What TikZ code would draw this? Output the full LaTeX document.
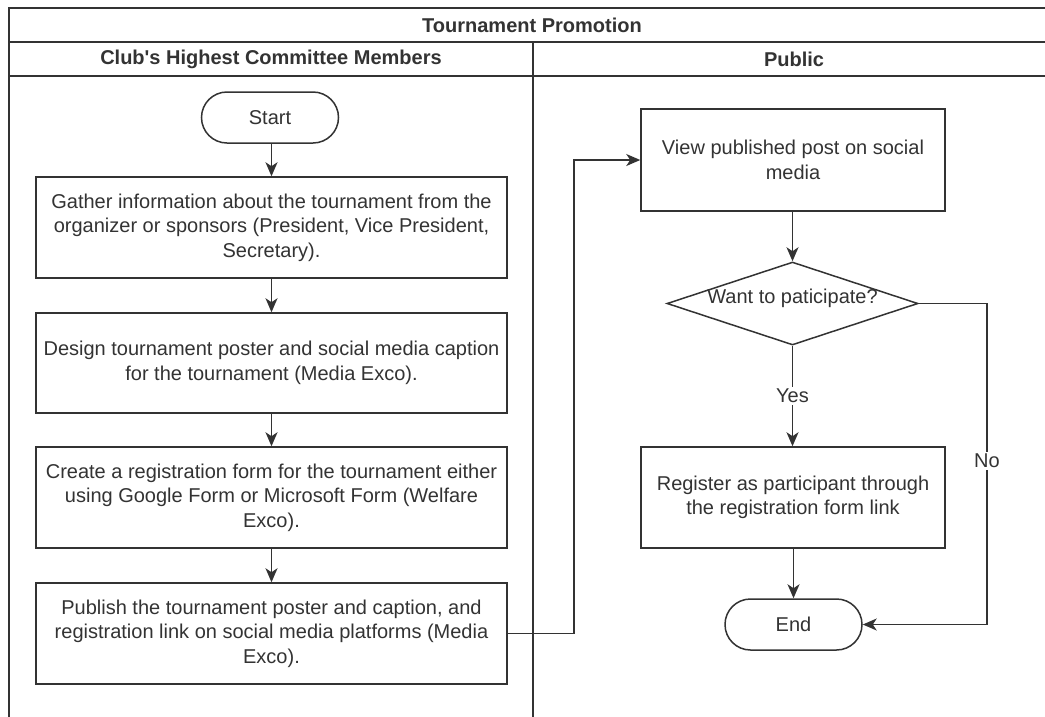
\documentclass[tikz,border=0pt]{standalone}
\usepackage{fontspec}
\setmainfont{Liberation Sans}[Ligatures=TeXOff]
\usetikzlibrary{arrows.meta,shapes.geometric}
\definecolor{ink}{HTML}{333333}
\tikzset{
  >={Stealth[length=14pt,width=12pt,inset=4pt]},
  every node/.style={text=ink, font=\fontsize{20}{24.5}\selectfont},
  proc/.style={draw=ink, line width=1.5pt, rectangle, align=center, inner sep=0pt, fill=white},
  term/.style={draw=ink, line width=1.5pt, rectangle, rounded corners=25.5pt, minimum width=137pt, minimum height=51pt, inner sep=0pt, fill=white},
  decision/.style={draw=ink, line width=1.5pt, diamond, minimum width=251pt, minimum height=83pt, inner sep=0pt, fill=white},
  flow/.style={draw=ink, line width=1.5pt, ->},
  lane/.style={draw=ink, line width=1.5pt},
  hdr/.style={font=\fontsize{20}{24}\selectfont\bfseries},
  lbl/.style={fill=white, inner sep=2pt}
}
\begin{document}
\begin{tikzpicture}[x=1pt, y=-1pt]
\useasboundingbox (0,0) rectangle (1045,716);
\fill[white] (0,0) rectangle (1045,716);
\begin{scope}
  \clip (0,0) rectangle (1045,716);
  \draw[lane] (9,8) rectangle (1055,740);
  \draw[lane] (9,42) -- (1055,42);
  \draw[lane] (9,76) -- (1055,76);
  \draw[lane] (533,42) -- (533,740);
\end{scope}
\node[hdr] (title) at (532,25) {Tournament Promotion};
\node[hdr] (laneA) at (271,59) {Club's Highest Committee Members};
\node[hdr] (laneB) at (794,59) {Public};

\node[term] (start) at (270,117.5) {Start};
\node[proc, minimum width=471pt, minimum height=101pt] (g) at (271.5,227.5) {Gather information about the tournament from the\\organizer or sponsors (President, Vice President,\\Secretary).};
\node[proc, minimum width=471pt, minimum height=100pt] (d) at (271.5,363) {Design tournament poster and social media caption\\for the tournament (Media Exco).};
\node[proc, minimum width=471pt, minimum height=101pt] (c) at (271.5,497.5) {Create a registration form for the tournament either\\using Google Form or Microsoft Form (Welfare\\Exco).};
\node[proc, minimum width=471pt, minimum height=101pt] (p) at (271.5,633.5) {Publish the tournament poster and caption, and\\registration link on social media platforms (Media\\Exco).};

\node[proc, minimum width=304pt, minimum height=102pt] (v) at (793,160) {View published post on social\\media};
\node[decision] (q) at (792.5,303.5) {\smash{\makebox[0pt]{Want to paticipate?}}};
\node[proc, minimum width=304pt, minimum height=101pt] (r) at (793,497.5) {Register as participant through\\the registration form link};
\node[term] (e) at (793.5,624.5) {End};
\coordinate (n1) at (987,303.5);
\coordinate (n2) at (987,624.5);
\coordinate (b1) at (574,633.5);
\coordinate (b2) at (574,160);

\draw[flow] (start.south -| g.north) -- (g.north);
\draw[flow] (g) -- (d);
\draw[flow] (d) -- (c);
\draw[flow] (c) -- (p);
\draw[flow] (p.east) -- (b1) -- (b2) -- (v.west);
\draw[flow] (v.south -| q.north) -- (q.north);
\draw[flow] (q.south) -- node[lbl, pos=0.5] (yes) {Yes} (q.south |- r.north);
\draw[flow] (r.south -| e.north) -- (e.north);
\draw[flow] (q.east) -- (n1) -- node[lbl, pos=0.49] (no) {No} (n2) -- (e.east);
\end{tikzpicture}
\end{document}
